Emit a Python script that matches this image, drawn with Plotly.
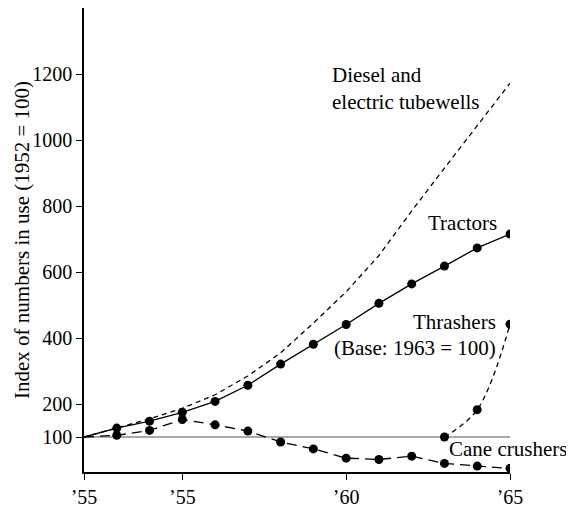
import plotly.graph_objects as go

years = list(range(1952, 1966))
tractors = [100, 127, 148, 175, 208, 257, 321, 381, 441, 505, 564, 618, 673, 715]
tubewells = [100, 128, 155, 187, 228, 285, 355, 445, 540, 650, 785, 915, 1045, 1172]
cane_crushers = [100, 105, 120, 153, 137, 118, 85, 64, 36, 32, 42, 20, 12, 5]
thrasher_years = [1963, 1964, 1965]
thrashers = [100, 183, 442]
base_years = [1952, 1965]
base_values = [100, 100]

tick_years = [1952, 1955, 1960, 1965]
tick_labels = ["\u201955", "\u201955", "\u201960", "\u201965"]
y_ticks = [100, 200, 400, 600, 800, 1000, 1200]

FONT = "Liberation Serif"
BLACK = "#000000"
MS = 9

fig = go.Figure()

fig.add_trace(go.Scatter(x=base_years, y=base_values, mode="lines",
                         line=dict(color="#555555", width=1.2), showlegend=False))
fig.add_trace(go.Scatter(x=years, y=tubewells, mode="lines",
                         line=dict(color=BLACK, width=1.3, dash="5px,4px"), showlegend=False))
fig.add_trace(go.Scatter(x=years, y=tractors, mode="lines",
                         line=dict(color=BLACK, width=1.3), showlegend=False))
fig.add_trace(go.Scatter(x=years[1:], y=tractors[1:], mode="markers",
                         marker=dict(color=BLACK, size=MS, opacity=1), showlegend=False))
fig.add_trace(go.Scatter(x=years, y=cane_crushers, mode="lines",
                         line=dict(color=BLACK, width=1.3, dash="10px,6px"), showlegend=False))
fig.add_trace(go.Scatter(x=years[1:], y=cane_crushers[1:], mode="markers",
                         marker=dict(color=BLACK, size=MS, opacity=1), showlegend=False))
fig.add_trace(go.Scatter(x=thrasher_years, y=thrashers, mode="lines",
                         line=dict(color=BLACK, width=1.3, dash="5px,4px", shape="spline"),
                         showlegend=False))
fig.add_trace(go.Scatter(x=thrasher_years, y=thrashers, mode="markers",
                         marker=dict(color=BLACK, size=MS, opacity=1), showlegend=False))

# page offset (browser body margin) compensation
OFF = 8
fs = 21
ann = [
    dict(text="Diesel and", x=330, y=75, xanchor="left"),
    dict(text="electric tubewells", x=330, y=102, xanchor="left"),
    dict(text="Tractors", x=499, y=223, xanchor="right"),
    dict(text="Thrashers", x=498, y=322, xanchor="right"),
    dict(text="(Base: 1963 = 100)", x=498, y=348, xanchor="right"),
    dict(text="Cane crushers", x=447, y=449, xanchor="left"),
]
W, H = 574 - OFF, 507 - OFF
L, R, T, B = 84 - OFF, 64, 0, 35
pw, ph = W - L - R, H - T - B
annotations = []
for a in ann:
    annotations.append(dict(
        text=a["text"], xref="paper", yref="paper",
        x=(a["x"] - OFF - L) / pw, y=1 - (a["y"] - OFF - T) / ph,
        xanchor=a["xanchor"], yanchor="middle", showarrow=False,
        font=dict(family=FONT, size=fs, color=BLACK)))
annotations.append(dict(
    text="Index of numbers in use (1952 = 100)", xref="paper", yref="paper",
    x=(22 - OFF - L) / pw, y=1 - (240 - OFF - T) / ph, textangle=-90,
    xanchor="center", yanchor="middle", showarrow=False,
    font=dict(family=FONT, size=fs, color=BLACK)))

fig.update_layout(
    width=W, height=H,
    margin=dict(l=L, r=R, t=T, b=B),
    paper_bgcolor="white", plot_bgcolor="white",
    font=dict(family=FONT, size=20, color=BLACK),
    annotations=annotations,
    xaxis=dict(range=[1952, 1965], tickmode="array", tickvals=tick_years,
               ticktext=tick_labels, showgrid=False, zeroline=False,
               showline=True, linecolor=BLACK, linewidth=1.5,
               ticks="outside", ticklen=6, tickcolor=BLACK, tickwidth=1.2,
               tickfont=dict(family=FONT, size=20, color=BLACK)),
    yaxis=dict(range=[-6, 1400], tickmode="array", tickvals=y_ticks,
               showgrid=False, zeroline=False,
               showline=True, linecolor=BLACK, linewidth=1.5,
               ticks="outside", ticklen=6, tickcolor=BLACK, tickwidth=1.2,
               tickfont=dict(family=FONT, size=20, color=BLACK)),
)

fig.write_html("out.html")
